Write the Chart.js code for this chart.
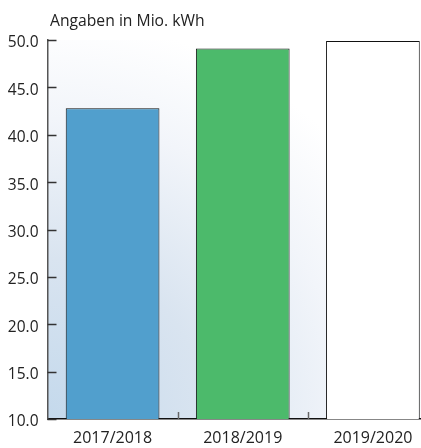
<!DOCTYPE html>
<html>
<head>
<meta charset="utf-8">
<script src="https://cdn.jsdelivr.net/npm/chart.js@4"></script>
<style>
  html, body { margin:0; padding:0; background:#fff; overflow:hidden; }
  #wrap { position:relative; width:421px; height:448px; overflow:hidden; }
  #box { position:absolute; left:0; top:0; width:440px; height:448px; }
  #title { position:absolute; left:50px; top:9px; font:15.7px 'Open Sans', sans-serif; color:#222; }
</style>
</head>
<body>
<div id="wrap">
  <div id="box"><canvas id="chart"></canvas></div>
  <div id="title">Angaben in Mio. kWh</div>
</div>
<script>
// chart data
const seasons = ['2017/2018', '2018/2019', '2019/2020'];
const kwhValues = [42.8, 49.1, 49.9];
const barColors = ['#519fcd', '#4cba6b', '#ffffff'];
const yTicks = [10, 15, 20, 25, 30, 35, 40, 45, 50];

// ---- plugins ----
const bgPlugin = {
  id: 'bgGradient',
  beforeDraw(chart){
    const {ctx, chartArea: a} = chart;
    const g = ctx.createRadialGradient(a.left, a.bottom, 0, a.left, a.bottom, 400);
    g.addColorStop(0, '#c4d9ec');
    g.addColorStop(0.4, '#d9e4f0');
    g.addColorStop(0.75, '#f2f5fa');
    g.addColorStop(1, '#ffffff');
    ctx.save();
    ctx.fillStyle = g;
    ctx.fillRect(a.left, a.top, a.right - a.left, a.bottom - a.top);
    ctx.restore();
  }
};

// tick marks drawn inside the plot area
const tickPlugin = {
  id: 'innerTicks',
  afterDraw(chart){
    const {ctx, chartArea: a, scales} = chart;
    ctx.save();
    ctx.strokeStyle = '#333';
    ctx.lineWidth = 1.5;
    yTicks.forEach(v => {
      const y = Math.round(scales.y.getPixelForValue(v)) + 0.5;
      ctx.beginPath();
      ctx.moveTo(a.left, y);
      ctx.lineTo(a.left + 9, y);
      ctx.stroke();
    });
    ctx.strokeStyle = '#666';
    for(let i=0;i<seasons.length-1;i++){
      const x = Math.round((scales.x.getPixelForValue(i) + scales.x.getPixelForValue(i+1))/2) + 0.5;
      ctx.beginPath();
      ctx.moveTo(x, a.bottom);
      ctx.lineTo(x, a.bottom - 7);
      ctx.stroke();
    }
    ctx.restore();
  }
};

function init(){
  const ctx = document.getElementById('chart').getContext('2d');
  new Chart(ctx, {
    type: 'bar',
    data: {
      labels: seasons,
      datasets: [{
        data: kwhValues,
        backgroundColor: barColors,
        borderColor: '#111',
        borderWidth: 1,
        barPercentage: 0.72,
        categoryPercentage: 1
      }]
    },
    options: {
      responsive: true,
      maintainAspectRatio: false,
      animation: false,
      layout: { padding: { top: 40, right: 2, left: 0, bottom: 0 } },
      plugins: { legend: { display: false }, tooltip: { enabled: false } },
      scales: {
        x: {
          grid: { display: false, drawTicks: false },
          border: { color: '#111', width: 1.5 },
          ticks: { color: '#222', font: { family: 'Open Sans', size: 16 }, padding: 10 },
          afterFit(s){ s.height = 29; }
        },
        y: {
          min: 10, max: 50,
          afterBuildTicks(s){ s.ticks = yTicks.map(v => ({ value: v })); },
          grid: { display: false, drawTicks: false },
          border: { color: '#555', width: 1.5 },
          ticks: {
            color: '#222', font: { family: 'Open Sans', size: 15.5 }, padding: 9,
            labelOffset: 3,
            callback: v => Number(v).toFixed(1)
          },
          afterFit(s){ s.width = 47.5; }
        }
      }
    },
    plugins: [bgPlugin, tickPlugin]
  });
}

init();
</script>
</body>
</html>
